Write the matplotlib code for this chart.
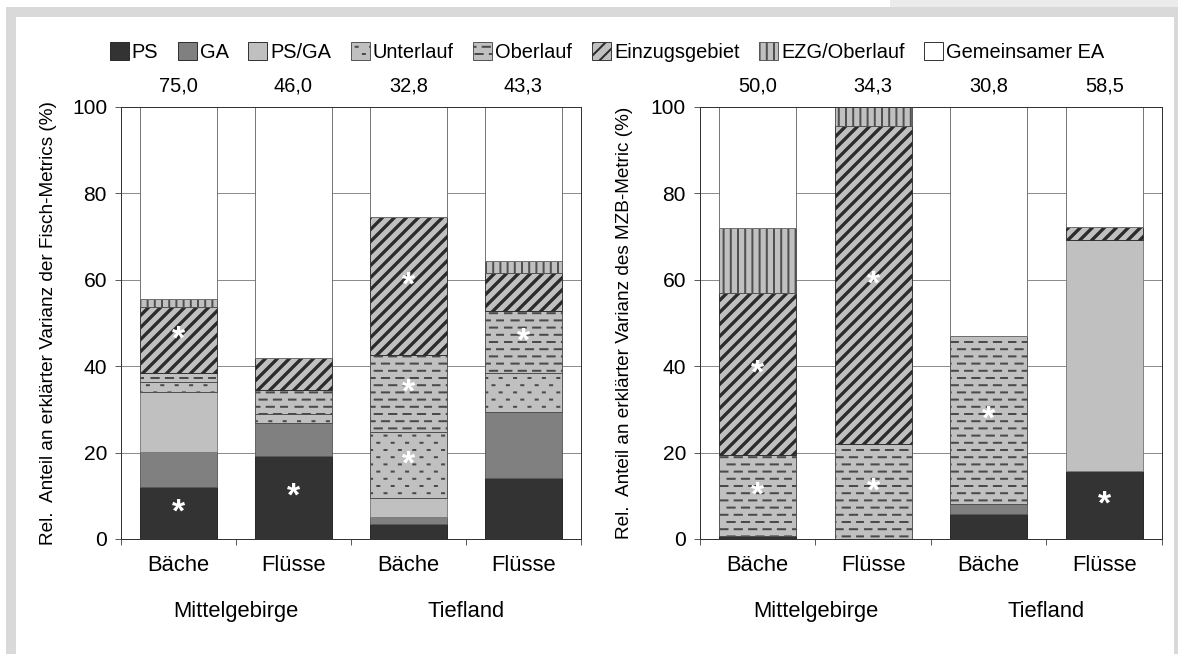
import numpy as np
import matplotlib
matplotlib.use("Agg")
import matplotlib.pyplot as plt
import matplotlib.hatch as mhatch
import matplotlib.transforms as mtrans
from matplotlib.patches import Patch, Rectangle
from matplotlib.path import Path

plt.rcParams["font.family"] = ["Liberation Sans", "DejaVu Sans"]
plt.rcParams["hatch.linewidth"] = 2.0

# data
groups = ["Bäche", "Flüsse", "Bäche", "Flüsse"]
regions = ["Mittelgebirge", "Tiefland"]
components = ["PS", "GA", "PS/GA", "Unterlauf", "Oberlauf",
              "Einzugsgebiet", "EZG/Oberlauf", "Gemeinsamer EA"]

# Fisch-Metrics (left)
fish_ps = [12.0, 19.3, 3.5, 14.2]
fish_ga = [8.1, 7.5, 1.5, 15.1]
fish_psga = [13.9, 0.0, 4.6, 0.0]
fish_unter = [2.3, 2.1, 15.2, 9.2]
fish_ober = [2.1, 5.7, 17.8, 14.3]
fish_ezg = [15.4, 7.4, 32.0, 8.7]
fish_ezg_ober = [1.8, 0.0, 0.0, 2.9]
fish_common = [44.4, 58.0, 25.4, 35.6]
fish_n = [75.0, 46.0, 32.8, 43.3]
fish_sig = {"PS": [0, 1], "Unterlauf": [2], "Oberlauf": [2, 3], "Einzugsgebiet": [0, 2]}

# MZB-Metric (right)
mzb_ps = [0.6, 0.0, 5.7, 15.7]
mzb_ga = [0.0, 0.0, 2.3, 0.0]
mzb_psga = [0.0, 0.0, 0.0, 53.4]
mzb_unter = [0.0, 0.0, 0.0, 0.0]
mzb_ober = [18.8, 21.9, 39.1, 0.0]
mzb_ezg = [37.5, 73.8, 0.0, 3.2]
mzb_ezg_ober = [15.2, 4.3, 0.0, 0.0]
mzb_common = [27.9, 0.0, 52.9, 27.7]
mzb_n = [50.0, 34.3, 30.8, 58.5]
mzb_sig = {"PS": [3], "Oberlauf": [0, 1, 2], "Einzugsgebiet": [0, 1]}


def staggered(char, rows, cols, half):
    # hatch class: staggered short strokes, one row set per `char` in the hatch string
    class Staggered(mhatch.HatchPatternBase):
        def __init__(self, hatch, density):
            self.rows = hatch.count(char) * rows
            self.num_vertices = self.rows * cols * 2

        def set_vertices_and_codes(self, vertices, codes):
            i = 0
            for r in range(self.rows):
                y = (r + 0.5) / self.rows
                shift = 0.27 if r % 2 == 0 else 0.77
                for c in range(cols):
                    xc = (c + shift) / cols
                    vertices[i] = (xc - half, y)
                    vertices[i + 1] = (xc + half, y)
                    codes[i] = Path.MOVETO
                    codes[i + 1] = Path.LINETO
                    i += 2
    return Staggered


class VLines(mhatch.HatchPatternBase):
    def __init__(self, hatch, density):
        self.num_lines = hatch.count("o") * 10
        self.num_vertices = self.num_lines * 2

    def set_vertices_and_codes(self, vertices, codes):
        xs = (np.arange(self.num_lines) + 0.5) / self.num_lines
        vertices[0::2, 0] = xs
        vertices[0::2, 1] = 0.0
        vertices[1::2, 0] = xs
        vertices[1::2, 1] = 1.0
        codes[0::2] = Path.MOVETO
        codes[1::2] = Path.LINETO


class Diagonal(mhatch.HatchPatternBase):
    # '/' stripes, m per tile width, seamless
    def __init__(self, hatch, density):
        self.m = hatch.count("/") * 6
        self.num_vertices = (2 * self.m + 1) * 2 if self.m else 0

    def set_vertices_and_codes(self, vertices, codes):
        d = np.arange(-self.m, self.m + 1) / self.m
        vertices[0::2, 0] = d
        vertices[0::2, 1] = 0.0
        vertices[1::2, 0] = d + 1.0
        vertices[1::2, 1] = 1.0
        codes[0::2] = Path.MOVETO
        codes[1::2] = Path.LINETO


# 'O' -> dashes, '.' -> small dots, 'o' -> dense vertical lines, '/' -> stripes
mhatch._hatch_types = [h for h in mhatch._hatch_types
                       if h not in (mhatch.SmallCircles, mhatch.LargeCircles,
                                    mhatch.SmallFilledCircles, mhatch.NorthEastHatch)]
mhatch._hatch_types += [staggered("O", 10, 5, 0.05), staggered(".", 10, 5, 0.014),
                        VLines, Diagonal]

styles = {
    "PS": ("#333333", None, "#1e1e1e"),
    "GA": ("#808080", None, "#5a5a5a"),
    "PS/GA": ("#c0c0c0", None, "#7a7a7a"),
    "Unterlauf": ("#c0c0c0", ".", "#4a4a4a"),
    "Oberlauf": ("#c0c0c0", "O", "#4a4a4a"),
    "Einzugsgebiet": ("#c0c0c0", "/", "#2b2b2b"),
    "EZG/Oberlauf": ("#c0c0c0", "o", "#505050"),
    "Gemeinsamer EA": ("#ffffff", None, "#6a6a6a"),
}

W, H = 1178, 654
FS = 20
FS_AX = 22
fig = plt.figure(figsize=(W / 72, H / 72), dpi=72)

# grey frame of the original graphic
frame_grey = "#d9d9d9"
for (x0, y0, x1, y1, col) in [(6, 7, 16, 654, frame_grey), (6, 7, 1178, 17, frame_grey),
                              (1174, 7, 1178, 654, frame_grey), (890, 0, 1178, 7, "#ebebeb")]:
    fig.add_artist(Rectangle((x0 / W, 1 - y1 / H), (x1 - x0) / W, (y1 - y0) / H,
                             transform=fig.transFigure, facecolor=col, edgecolor="none"))


def panel(ax, series, n_vals, sig, ylabel):
    x = np.arange(len(groups)) + 0.5
    bottom = np.zeros(len(groups))
    for name, vals in zip(components, series):
        vals = np.array(vals, dtype=float)
        face, hatch, edge = styles[name]
        bars = ax.bar(x, vals, 0.67, bottom=bottom, color=face, edgecolor=edge,
                      hatch=hatch, linewidth=0.9, zorder=2)
        for b, v in zip(bars, vals):
            if v == 0:
                b.set_visible(False)
            if name == "Einzugsgebiet" and hasattr(b, "set_hatch_linewidth"):
                b.set_hatch_linewidth(3.3)
        for i in sig.get(name, []):
            ax.text(x[i], bottom[i] + vals[i] / 2, "*", color="white", fontsize=34,
                    fontweight="bold", ha="center", va="center", zorder=4)
        bottom += vals

    ax.set_xlim(0, 4)
    ax.set_ylim(0, 100)
    ax.set_yticks(np.arange(0, 101, 20))
    ax.tick_params(axis="y", labelsize=21, length=6, pad=8, color="#333333")
    ax.yaxis.grid(True, color="#808080", linewidth=0.9)
    ax.set_axisbelow(True)
    ax.set_xticks([0, 1, 2, 3, 4])
    ax.set_xticklabels([])
    ax.tick_params(axis="x", which="major", length=6, color="#333333")
    ax.set_xticks(x, minor=True)
    ax.set_xticklabels(groups, minor=True, fontsize=FS_AX)
    ax.tick_params(axis="x", which="minor", length=0, pad=16)
    for sp in ax.spines.values():
        sp.set_color("#333333")
        sp.set_linewidth(1.0)

    tr = mtrans.blended_transform_factory(ax.transData, ax.transAxes)
    for xi, v in zip(x, n_vals):
        ax.text(xi, 1.049, f"{v:.1f}".replace(".", ","), transform=tr,
                ha="center", va="center", fontsize=FS)
    for xi, reg in zip([1, 3], regions):
        ax.text(xi, -0.167, reg, transform=tr, ha="center", va="center", fontsize=FS_AX)
    ax.set_ylabel(ylabel, fontsize=19)
    ax.yaxis.set_label_coords(-0.14, 0.5)


ax1 = fig.add_axes([121 / W, 1 - 539 / H, 460 / W, 432 / H])
ax2 = fig.add_axes([700 / W, 1 - 539 / H, 462 / W, 432 / H])

panel(ax1, [fish_ps, fish_ga, fish_psga, fish_unter, fish_ober, fish_ezg, fish_ezg_ober, fish_common],
      fish_n, fish_sig, "Rel.  Anteil an erklärter Varianz der Fisch-Metrics (%)")
panel(ax2, [mzb_ps, mzb_ga, mzb_psga, mzb_unter, mzb_ober, mzb_ezg, mzb_ezg_ober, mzb_common],
      mzb_n, mzb_sig, "Rel.  Anteil an erklärter Varianz des MZB-Metric (%)")
ax2.yaxis.set_label_coords(-0.145, 0.5)

handles = []
for name in components:
    face, hatch, edge = styles[name]
    handles.append(Patch(facecolor=face, edgecolor="#222222" if hatch is None else edge,
                         hatch=hatch, linewidth=0.9, label=name))
fig.legend(handles=handles, loc="center", bbox_to_anchor=(607 / W, 1 - 52 / H), ncol=8,
           frameon=False, fontsize=FS, handlelength=0.95, handleheight=0.95,
           handletextpad=0.15, columnspacing=0.98, borderpad=0)

fig.savefig("out.png", dpi=72)
